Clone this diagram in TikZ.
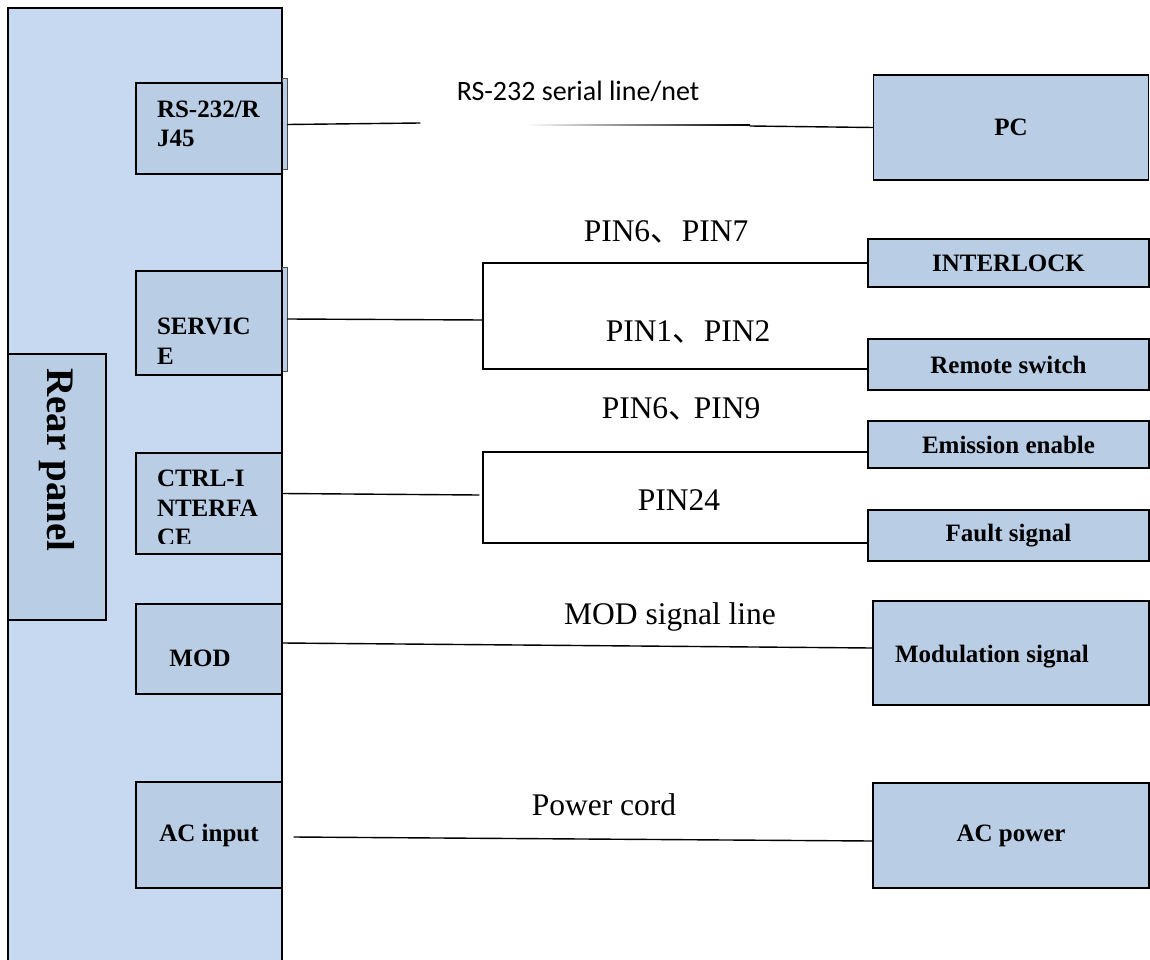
\documentclass[tikz,border=0pt]{standalone}
\usepackage{fontspec}
\setmainfont{Liberation Serif}
\newfontfamily\cjk{Noto Sans CJK SC}
\newfontfamily\calib{Carlito}
\usepackage{xcolor}
\definecolor{panelblue}{RGB}{198,217,241}
\definecolor{boxblue}{RGB}{185,205,229}

\begin{document}
\begin{tikzpicture}[x=1pt,y=-1pt,line cap=round,
  wire/.style={line width=1.4pt},
  port/.style={draw,fill=boxblue,line width=1.5pt,minimum width=146pt,inner sep=0pt,font=\fontsize{25}{29.5}\selectfont\bfseries},
  slot/.style={draw=black!70,fill=boxblue,line width=1pt,minimum width=5pt,inner sep=0pt},
  dev/.style={draw,fill=boxblue,line width=1.5pt,inner sep=0pt,font=\fontsize{25}{29}\selectfont\bfseries},
  portlbl/.style={font=\fontsize{25}{29.5}\selectfont\bfseries,align=left,text width=104pt,inner sep=0pt},
  pinlbl/.style={font=\fontsize{31.5}{36}\selectfont,inner sep=0pt}]
\useasboundingbox (0,0) rectangle (1150,960);
\node[draw,fill=panelblue,line width=1.5pt,minimum width=274pt,minimum height=962pt,inner sep=0pt] (panel) at (145,489) {};
\node[port,minimum width=98pt,minimum height=266pt] (rear) at (57,487) {};
\node[rotate=-90,font=\fontsize{39}{44}\selectfont\bfseries,inner sep=0pt] (reart) at (57,460) {Rear panel};
% ports on the rear panel
\node[slot,minimum height=91pt] (rsthin) at (284.5,124.5) {};
\node[port,minimum height=91pt] (rs) at (209,128.5) {};
\node[portlbl] (rst) at (209,124) {RS-232/R\\J45};
\node[slot,minimum height=104pt] (svcthin) at (284.5,319) {};
\node[port,minimum height=104pt] (svc) at (209,323) {};
\node[portlbl] (svct) at (209,341) {SERVIC\\E};
\node[port,minimum height=101pt] (ctrl) at (209,503.5) {};
\begin{scope}
\clip (136,453) rectangle (282,543);
\node[portlbl] (ctrlt) at (209,508) {CTRL-I\\NTERFA\\CE};
\end{scope}
\node[port,minimum height=90pt] (modp) at (209,649) {};
\node[font=\fontsize{25}{29}\selectfont\bfseries,inner sep=0pt] (modt) at (200,658) {MOD};
\node[port,minimum height=106pt] (acin) at (209,835) {AC input};
% outside devices
\node[dev,minimum width=275pt,minimum height=105pt] (pc) at (1011,127.5) {PC};
\node[dev,minimum width=281pt,minimum height=48pt] (ilock) at (1008.5,263) {INTERLOCK};
\node[dev,minimum width=281pt,minimum height=51pt] (remote) at (1008.5,364.5) {Remote switch};
\node[dev,minimum width=281pt,minimum height=47pt] (emis) at (1008.5,444.5) {Emission enable};
\node[dev,minimum width=281pt,minimum height=51pt] (fault) at (1008.5,535.5) {Fault signal};
\node[dev,minimum width=276pt,minimum height=104pt] (modsig) at (1011,653) {};
\node[font=\fontsize{25}{29}\selectfont\bfseries,inner sep=0pt] (modsigt) at (992,657) {Modulation signal};
\node[dev,minimum width=276pt,minimum height=105pt] (acpow) at (1011,835.5) {AC power};
% wires
\coordinate (rsend) at (420,123);
\coordinate (rsdark) at (750,126);
\coordinate (busA) at (483,320);
\coordinate (busB) at (483,495);
\coordinate (ctrljoin) at (479,495);
\coordinate (acstart) at (294,837);
\coordinate (remin) at ([yshift=-4.5pt]remote.west);
\coordinate (emisin) at ([yshift=-7.5pt]emis.west);
\coordinate (faultin) at ([yshift=-7.5pt]fault.west);
\draw[wire] (rsthin.east) -- (rsend);
\shade[left color=white,right color=black] (525,124.3) rectangle (750,125.7);
\draw[wire] (rsdark) -- (pc.west);
\draw[wire] (svcthin.east) -- (busA);
\draw[wire] (ilock.west) -- (ilock.west -| busA) -- (remin -| busA) -- (remin);
\draw[wire] ([yshift=10pt]ctrl.east) -- (ctrljoin);
\draw[wire] (emisin) -- (emisin -| busB) -- (faultin -| busB) -- (faultin);
\draw[wire] ([yshift=6pt]modp.east) -- ([yshift=5pt]modsig.west);
\draw[wire] (acstart) -- ([yshift=-5.5pt]acpow.west);
% wire labels
\node[font=\calib\fontsize{28}{32}\selectfont,inner sep=0pt] (rsnote) at (578,91) {RS-232 serial line/net};
\node[pinlbl] (pinA) at (666,232) {PIN6{\cjk 、}PIN7};
\node[pinlbl] (pinB) at (688,332) {PIN1{\cjk 、}PIN2};
\node[pinlbl] (pinC) at (681,409) {PIN6{\cjk 、}\kern-6pt PIN9};
\node[pinlbl] (pinD) at (679,500) {PIN24};
\node[pinlbl] (modnote) at (670,617) {MOD signal line};
\node[pinlbl] (acnote) at (604,805) {Power cord};
\end{tikzpicture}
\end{document}
